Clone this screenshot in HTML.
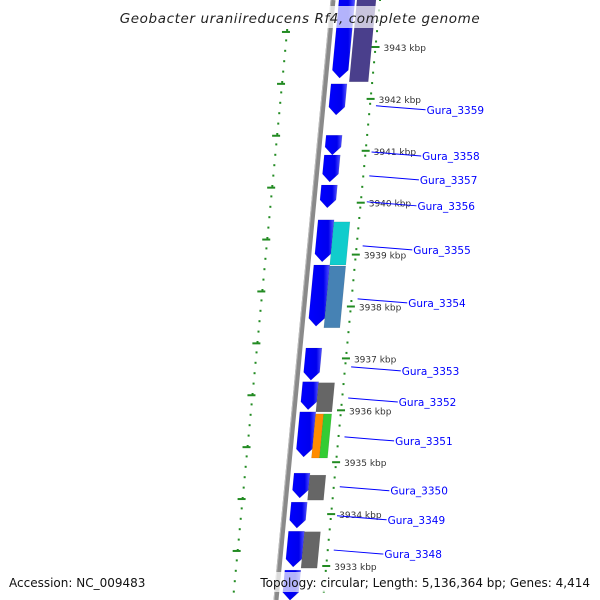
<!DOCTYPE html>
<html><head><meta charset="utf-8"><style>
body{margin:0;background:#fff;}
svg{display:block;font-family:"DejaVu Sans","Liberation Sans",sans-serif;}
</style></head><body>
<svg id="map" width="600" height="600" viewBox="0 0 600 600">
<defs>
<linearGradient id="gb" x1="0" x2="1" y1="0" y2="0"><stop offset="0" stop-color="#0000ff"/><stop offset="0.7" stop-color="#0000ee"/><stop offset="1" stop-color="#5555ff"/></linearGradient>
</defs>
<g id="layer"></g>
</svg>
<script>
// data
const tickKb = [3943,3942,3941,3940,3939,3938,3937,3936,3935,3934,3933];
const geneStart = [3943.91,3942.29,3941.30,3940.92,3940.34,3939.67,3938.80,3937.20,3936.55,3935.97,3934.79,3934.23,3933.67,3932.92,
                   3943.91,3939.63,3938.78,3936.53,3935.93,3935.93,3934.75,3933.66];
const geneEnd   = [3942.40,3941.69,3940.92,3940.40,3939.90,3938.86,3937.62,3936.58,3936.01,3935.10,3934.31,3933.73,3932.98,3932.34,
                   3942.33,3938.80,3937.59,3935.97,3935.08,3935.08,3934.27,3932.96];
const geneLane  = ["b","b","b","b","b","b","b","b","b","b","b","b","b","b",
                   "slate","s","s","s","o","g","s","s"];
const geneColor = ["b","b","b","b","b","b","b","b","b","b","b","b","b","b",
                   "#4a3f8c","#11cccc","#4682b4","#666666","#ff8c00","#33cc33","#666666","#666666"];
const labelNames = ["Gura_3359","Gura_3358","Gura_3357","Gura_3356","Gura_3355","Gura_3354","Gura_3353","Gura_3352","Gura_3351","Gura_3350","Gura_3349","Gura_3348"];
const labelKb = [3941.79,3940.90,3940.44,3939.94,3939.09,3938.07,3936.76,3936.16,3935.41,3934.45,3933.89,3933.23];

const NS="http://www.w3.org/2000/svg";
const g=document.getElementById('layer');
function yOf(kb){return 47+(3943-kb)*51.9;}
function bx(y){return 333-0.095*y;}
function mk(tag,attrs,parent){const e=document.createElementNS(NS,tag);for(const k in attrs)e.setAttribute(k,attrs[k]);(parent||g).appendChild(e);return e;}

// backbone
let bb=mk('line',{x1:bx(0),y1:0,x2:bx(600),y2:600,stroke:'#8a8a8a','stroke-width':5});


let bb2=mk('line',{x1:bx(0)-2,y1:0,x2:bx(600)-2,y2:600,stroke:'#bbbbbb','stroke-width':1});



// left ruler
for(let y=30;y<600;y+=10.4){
  const x=bx(y)-43;
  const d=mk('rect',{x:x-1,y:y-1,width:2,height:2,fill:'#228b22'});
  
  
}
for(let k=0;k<11;k++){
  const y=yOf(3943.29-k);
  const x=bx(y)-43;
  const t=mk('rect',{x:x-5,y:y-1,width:8,height:2,fill:'#228b22'});
  
  
}

// right ruler
for(let y=0;y<600;y+=10.38){
  const x=bx(y)+47;
  const d=mk('rect',{x:x-1,y:y-1,width:2,height:2,fill:'#228b22'});
  
  
}
tickKb.forEach(kb=>{
  const y=yOf(kb);const x=bx(y)+47;
  const t=mk('rect',{x:x-4,y:y-1,width:8,height:2,fill:'#228b22'});
  
  
  const l=mk('text',{x:x+8,y:y+4,'font-size':9,fill:'#333'});
  l.textContent=kb+' kbp';
  
  
});

// genes
const lanes={b:[6,22],s:[22,38],slate:[24,43],o:[22,30],g:[30,38]};
for(let i=0;i<geneStart.length;i++){
  const y1=yOf(geneStart[i]),y2=yOf(geneEnd[i]);
  const [a,b]=lanes[geneLane[i]];
  const xl1=bx(y1)+a,xr1=bx(y1)+b,xl2=bx(y2)+a,xr2=bx(y2)+b;
  let pts,fill;
  if(geneColor[i]==='b'){
    const ya=y2-8;
    const xla=bx(ya)+a,xra=bx(ya)+b,xm=bx(y2)+(a+b)/2;
    pts=`${xl1},${y1} ${xr1},${y1} ${xra},${ya} ${xm},${y2} ${xla},${ya}`;
    fill='url(#gb)';
  } else {
    pts=`${xl1},${y1} ${xr1},${y1} ${xr2},${y2} ${xl2},${y2}`;
    fill=geneColor[i];
  }
  const p=mk('polygon',{points:pts,fill:fill,stroke:'rgba(0,0,0,0.15)','stroke-width':0.5});
  
  
}

// labels
labelNames.forEach((n,i)=>{
  const y=yOf(labelKb[i]);
  const ln=mk('line',{x1:bx(y-4)+53,y1:y-4,x2:bx(y)+103,y2:y,stroke:'#0000ff','stroke-width':1});
  
  
  const t=mk('text',{x:bx(y)+104,y:y+4,'font-size':10.5,fill:'#0000ff'});
  t.textContent=n;
  
  
});

// title & footer
const tb=mk('rect',{x:128,y:6,width:344,height:22,fill:'rgba(255,255,255,0.7)'});


const tt=mk('text',{x:300,y:23,'font-size':13.5,'font-style':'italic','text-anchor':'middle',fill:'#222','letter-spacing':'0.6'});
tt.textContent='Geobacter uraniireducens Rf4, complete genome';


const fb=mk('rect',{x:256,y:572,width:340,height:20,fill:'rgba(255,255,255,0.7)'});


const f1=mk('text',{x:9,y:587,'font-size':12,fill:'#111'});
f1.textContent='Accession: NC_009483';


const f2=mk('text',{x:590,y:587,'font-size':12,fill:'#111','text-anchor':'end'});
f2.textContent='Topology: circular; Length: 5,136,364 bp; Genes: 4,414';


</script>
</body></html>
